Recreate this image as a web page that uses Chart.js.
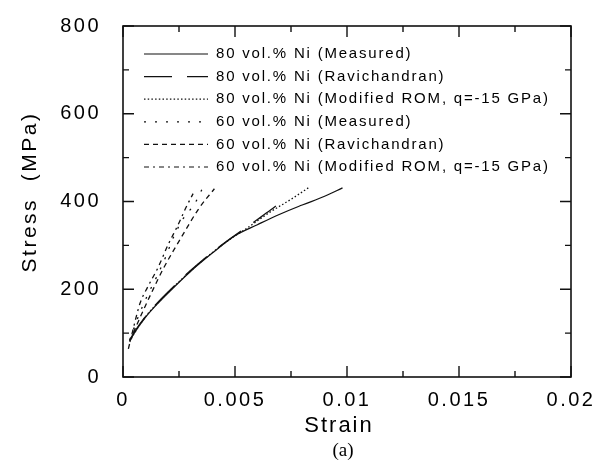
<!DOCTYPE html>
<html>
<head>
<meta charset="utf-8">
<script src="https://cdn.jsdelivr.net/npm/chart.js@4/dist/chart.umd.min.js"></script>
<style>
  html, body { margin: 0; padding: 0; background: #fff; }
</style>
</head>
<body>
<canvas id="myChart" width="608" height="464"></canvas>
<script>
// values (strain, stress MPa)
const strain80Meas = [0.0003, 0.0005, 0.001, 0.0015, 0.002, 0.003, 0.004, 0.005, 0.006, 0.007, 0.008, 0.009, 0.0098];
const stress80Meas = [82, 100, 136, 165, 191, 240, 283, 322, 347, 371, 392, 412, 431];

const strain80Rav = [0.0003, 0.0005, 0.001, 0.0015, 0.002, 0.003, 0.004, 0.005, 0.006, 0.0066, 0.0072];
const stress80Rav = [84, 102, 138, 167, 193, 242, 285, 323, 359, 381, 405];

const strain80Rom = [0.0003, 0.0005, 0.001, 0.0015, 0.002, 0.003, 0.004, 0.005, 0.0055, 0.006, 0.0066, 0.0075, 0.0083];
const stress80Rom = [80, 99, 137, 166, 192, 241, 284, 322, 338, 356, 377, 405, 432];

const strain60Meas = [0.0003, 0.0007, 0.0011, 0.0015, 0.0019, 0.00224, 0.0027, 0.0032, 0.00354];
const stress60Meas = [85, 140, 187, 228, 273, 317, 362, 395, 429];

const strain60Rav = [0.0003, 0.0008, 0.0013, 0.00179, 0.00268, 0.0034, 0.00408];
const stress60Rav = [82, 140, 195, 246, 325, 385, 429];

const strain60Rom = [0.00024, 0.0004, 0.00076, 0.0011, 0.00157, 0.002, 0.00246, 0.0028, 0.00313];
const stress60Rom = [64, 98, 168, 205, 250, 300, 347, 385, 418];

const seriesLabels = [
  '80 vol.% Ni (Measured)',
  '80 vol.% Ni (Ravichandran)',
  '80 vol.% Ni (Modified ROM, q=-15 GPa)',
  '60 vol.% Ni (Measured)',
  '60 vol.% Ni (Ravichandran)',
  '60 vol.% Ni (Modified ROM, q=-15 GPa)'
];

const xTicks = [0, 0.005, 0.01, 0.015, 0.02];
const yTicks = [0, 200, 400, 600, 800];

function pts(xs, ys) {
  return xs.map((x, i) => ({ x: x, y: ys[i] }));
}

const FONT = "'Liberation Sans', Arial, Helvetica, sans-serif";

function line(label, data, dash) {
  return {
    label: label,
    data: data,
    borderColor: '#111',
    borderWidth: 1.3,
    borderDash: dash,
    pointRadius: 0,
    fill: false,
    cubicInterpolationMode: 'monotone'
  };
}

// inward ticks on all four sides, frame, legend and titles
const framePlugin = {
  id: 'frame',
  beforeLayout(chart) { chart.ctx.letterSpacing = '2.5px'; },
  beforeDraw(chart) { chart.ctx.letterSpacing = '2.5px'; },
  afterDatasetsDraw(chart) {
    const ctx = chart.ctx;
    const a = chart.chartArea;
    const xs = chart.scales.x, ys = chart.scales.y;
    ctx.save();
    ctx.strokeStyle = '#111';
    ctx.lineWidth = 1.6;
    ctx.strokeRect(a.left, a.top, a.right - a.left, a.bottom - a.top);
    ctx.lineWidth = 1.4;
    ctx.beginPath();
    for (let i = 0; i < xTicks.length; i++) {
      const vals = [xTicks[i]];
      if (i < xTicks.length - 1) vals.push((xTicks[i] + xTicks[i + 1]) / 2);
      vals.forEach((v, k) => {
        const len = k === 0 ? 11 : 6;
        const px = xs.getPixelForValue(v);
        ctx.moveTo(px, a.bottom); ctx.lineTo(px, a.bottom - len);
        ctx.moveTo(px, a.top); ctx.lineTo(px, a.top + len);
      });
    }
    for (let i = 0; i < yTicks.length; i++) {
      const vals = [yTicks[i]];
      if (i < yTicks.length - 1) vals.push((yTicks[i] + yTicks[i + 1]) / 2);
      vals.forEach((v, k) => {
        const len = k === 0 ? 11 : 6;
        const py = ys.getPixelForValue(v);
        ctx.moveTo(a.left, py); ctx.lineTo(a.left + len, py);
        ctx.moveTo(a.right, py); ctx.lineTo(a.right - len, py);
      });
    }
    ctx.stroke();

    // legend inside plot
    ctx.font = '15px ' + FONT;
    ctx.letterSpacing = '1.8px';
    ctx.fillStyle = '#000';
    ctx.textBaseline = 'middle';
    chart.data.datasets.forEach((ds, i) => {
      const y = a.top + 28 + i * 22.6;
      ctx.beginPath();
      ctx.lineWidth = 1.2;
      ctx.setLineDash(ds.borderDash || []);
      ctx.moveTo(a.left + 21, y);
      ctx.lineTo(a.left + 85, y);
      ctx.stroke();
      ctx.setLineDash([]);
      ctx.fillText(ds.label, a.left + 93, y);
    });

    // axis titles
    ctx.letterSpacing = '2px';
    ctx.font = '22px ' + FONT;
    ctx.textAlign = 'center';
    ctx.fillText('Strain', 339, 426);
    ctx.save();
    ctx.translate(30, 192);
    ctx.rotate(-Math.PI / 2);
    ctx.letterSpacing = '2.5px';
    ctx.font = '21px ' + FONT;
    ctx.fillText('Stress  (MPa)', 0, 0);
    ctx.restore();
    ctx.letterSpacing = '0px';
    ctx.textBaseline = 'alphabetic';
    ctx.font = "19px 'Liberation Serif', 'Times New Roman', serif";
    ctx.fillText('(a)', 343, 456);
    ctx.restore();
  }
};

const ctx = document.getElementById('myChart').getContext('2d');
const myChart = new Chart(ctx, {
  type: 'line',
  data: {
    datasets: [
      line(seriesLabels[0], pts(strain80Meas, stress80Meas), []),
      line(seriesLabels[1], pts(strain80Rav, stress80Rav), [28, 15]),
      line(seriesLabels[2], pts(strain80Rom, stress80Rom), [1.5, 2.2]),
      line(seriesLabels[3], pts(strain60Meas, stress60Meas), [2, 9]),
      line(seriesLabels[4], pts(strain60Rav, stress60Rav), [5, 4]),
      line(seriesLabels[5], pts(strain60Rom, stress60Rom), [5, 4, 2, 4])
    ]
  },
  options: {
    responsive: false,
    animation: false,
    devicePixelRatio: 1,
    layout: { padding: { left: 0, right: 37, top: 19, bottom: 0 } },
    plugins: { legend: { display: false }, tooltip: { enabled: false } },
    scales: {
      x: {
        type: 'linear',
        min: 0, max: 0.02,
        afterFit(s) { s.height = 87; },
        afterBuildTicks(s) { s.ticks = xTicks.map(v => ({ value: v })); },
        grid: { display: false },
        border: { display: false },
        ticks: {
          padding: 3,
          color: '#000',
          font: { family: FONT, size: 20 },
          maxRotation: 0,
          callback: v => String(parseFloat(v.toFixed(4)))
        }
      },
      y: {
        type: 'linear',
        min: 0, max: 800,
        afterFit(s) { s.width = 123; },
        afterBuildTicks(s) { s.ticks = yTicks.map(v => ({ value: v })); },
        grid: { display: false },
        border: { display: false },
        ticks: {
          padding: 14,
          color: '#000',
          font: { family: FONT, size: 20 }
        }
      }
    }
  },
  plugins: [framePlugin]
});
</script>
</body>
</html>
